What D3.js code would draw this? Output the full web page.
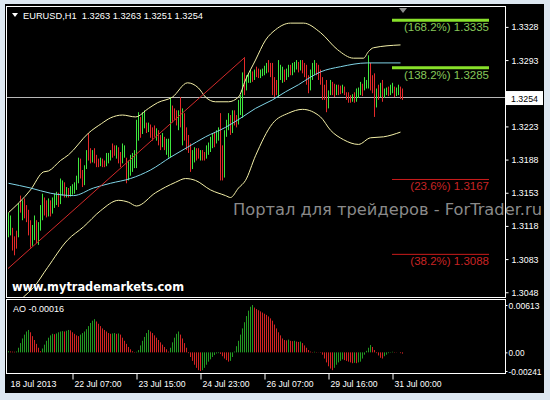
<!DOCTYPE html>
<html><head><meta charset="utf-8">
<script src="https://cdn.jsdelivr.net/npm/d3@7"></script>
<style>html,body{margin:0;padding:0;background:#dde7f1;overflow:hidden}</style>
</head><body><svg id="c" width="550" height="400"></svg>
<script>
// ---------- DATA ----------
const symbolTitle = "EURUSD,H1  1.3263 1.3263 1.3251 1.3254";
const open = [1.3110,1.3118,1.3114,1.3098,1.3110,1.3108,1.3140,1.3130,1.3144,1.3132,
1.3128,1.3114,1.3100,1.3112,1.3123,1.3104,1.3116,1.3134,1.3146,1.3133,
1.3130,1.3143,1.3132,1.3145,1.3148,1.3152,1.3142,1.3160,1.3163,1.3152,
1.3157,1.3150,1.3156,1.3158,1.3160,1.3166,1.3186,1.3172,1.3162,1.3180,
1.3208,1.3192,1.3187,1.3197,1.3188,1.3184,1.3182,1.3187,1.3183,1.3182,
1.3191,1.3192,1.3198,1.3200,1.3193,1.3200,1.3190,1.3185,1.3196,1.3188,
1.3168,1.3180,1.3188,1.3190,1.3190,1.3214,1.3232,1.3216,1.3228,1.3226,
1.3219,1.3224,1.3216,1.3221,1.3213,1.3218,1.3208,1.3202,1.3211,1.3198,
1.3200,1.3196,1.3244,1.3238,1.3234,1.3222,1.3250,1.3206,1.3236,1.3212,
1.3206,1.3200,1.3180,1.3190,1.3198,1.3193,1.3189,1.3196,1.3192,1.3190,
1.3198,1.3200,1.3206,1.3214,1.3206,1.3212,1.3226,1.3190,1.3172,1.3214,
1.3222,1.3232,1.3218,1.3238,1.3230,1.3226,1.3240,1.3236,1.3284,1.3262,
1.3270,1.3272,1.3279,1.3273,1.3284,1.3279,1.3276,1.3277,1.3280,1.3282,
1.3290,1.3286,1.3284,1.3264,1.3268,1.3258,1.3276,1.3272,1.3281,1.3273,
1.3278,1.3286,1.3279,1.3283,1.3285,1.3290,1.3283,1.3291,1.3284,1.3279,
1.3270,1.3262,1.3276,1.3280,1.3288,1.3282,1.3276,1.3270,1.3258,1.3262,
1.3244,1.3258,1.3268,1.3264,1.3258,1.3264,1.3262,1.3259,1.3264,1.3258,
1.3256,1.3254,1.3250,1.3256,1.3250,1.3258,1.3260,1.3266,1.3262,1.3265,
1.3268,1.3288,1.3268,1.3265,1.3244,1.3262,1.3255,1.3266,1.3254,1.3258,
1.3263,1.3257,1.3260,1.3264,1.3256,1.3259,1.3264,1.3263];
const high = [1.3132,1.3129,1.3116,1.3107,1.3113,1.3142,1.3150,1.3145,1.3147,1.3140,
1.3135,1.3124,1.3119,1.3129,1.3124,1.3122,1.3140,1.3152,1.3148,1.3145,
1.3147,1.3145,1.3148,1.3152,1.3154,1.3153,1.3168,1.3166,1.3164,1.3159,
1.3158,1.3160,1.3162,1.3164,1.3171,1.3190,1.3189,1.3177,1.3182,1.3198,
1.3216,1.3200,1.3198,1.3200,1.3193,1.3189,1.3190,1.3189,1.3187,1.3195,
1.3195,1.3198,1.3205,1.3203,1.3203,1.3201,1.3196,1.3205,1.3203,1.3190,
1.3187,1.3193,1.3195,1.3198,1.3230,1.3238,1.3233,1.3238,1.3240,1.3227,
1.3227,1.3225,1.3222,1.3224,1.3221,1.3219,1.3214,1.3216,1.3212,1.3210,
1.3210,1.3254,1.3245,1.3242,1.3240,1.3240,1.3254,1.3242,1.3237,1.3222,
1.3214,1.3205,1.3198,1.3201,1.3200,1.3200,1.3198,1.3198,1.3196,1.3203,
1.3206,1.3212,1.3216,1.3217,1.3219,1.3222,1.3237,1.3203,1.3219,1.3230,
1.3237,1.3235,1.3240,1.3240,1.3235,1.3251,1.3256,1.3280,1.3295,1.3277,
1.3279,1.3283,1.3281,1.3283,1.3286,1.3284,1.3283,1.3284,1.3287,1.3290,
1.3293,1.3290,1.3290,1.3275,1.3272,1.3293,1.3288,1.3286,1.3283,1.3284,
1.3288,1.3288,1.3290,1.3291,1.3293,1.3291,1.3293,1.3293,1.3290,1.3288,
1.3277,1.3283,1.3290,1.3293,1.3290,1.3288,1.3283,1.3275,1.3267,1.3272,
1.3261,1.3272,1.3270,1.3268,1.3267,1.3267,1.3266,1.3267,1.3265,1.3259,
1.3259,1.3256,1.3257,1.3259,1.3263,1.3264,1.3270,1.3268,1.3275,1.3272,
1.3298,1.3290,1.3277,1.3279,1.3263,1.3267,1.3269,1.3272,1.3263,1.3264,
1.3265,1.3267,1.3269,1.3265,1.3264,1.3267,1.3265,1.3263];
const low = [1.3106,1.3108,1.3092,1.3087,1.3094,1.3106,1.3132,1.3124,1.3126,1.3122,
1.3108,1.3095,1.3097,1.3103,1.3100,1.3098,1.3113,1.3124,1.3129,1.3127,
1.3128,1.3128,1.3131,1.3137,1.3140,1.3138,1.3141,1.3150,1.3148,1.3148,
1.3148,1.3149,1.3151,1.3152,1.3156,1.3163,1.3168,1.3159,1.3161,1.3178,
1.3187,1.3184,1.3185,1.3184,1.3180,1.3180,1.3181,1.3180,1.3180,1.3181,
1.3184,1.3187,1.3190,1.3192,1.3189,1.3184,1.3180,1.3184,1.3190,1.3163,
1.3166,1.3171,1.3175,1.3179,1.3179,1.3208,1.3211,1.3215,1.3221,1.3216,
1.3217,1.3211,1.3208,1.3212,1.3208,1.3203,1.3198,1.3201,1.3198,1.3193,
1.3190,1.3190,1.3227,1.3230,1.3224,1.3219,1.3222,1.3203,1.3208,1.3198,
1.3195,1.3175,1.3178,1.3185,1.3187,1.3189,1.3187,1.3187,1.3187,1.3189,
1.3193,1.3196,1.3200,1.3201,1.3205,1.3208,1.3166,1.3166,1.3169,1.3212,
1.3219,1.3214,1.3216,1.3224,1.3222,1.3225,1.3235,1.3232,1.3256,1.3261,
1.3269,1.3269,1.3270,1.3272,1.3275,1.3274,1.3274,1.3276,1.3277,1.3279,
1.3280,1.3275,1.3256,1.3254,1.3256,1.3254,1.3272,1.3269,1.3270,1.3272,
1.3275,1.3277,1.3277,1.3280,1.3283,1.3280,1.3282,1.3279,1.3275,1.3267,
1.3258,1.3261,1.3272,1.3277,1.3277,1.3272,1.3267,1.3251,1.3251,1.3238,
1.3242,1.3256,1.3256,1.3254,1.3256,1.3256,1.3257,1.3258,1.3256,1.3251,
1.3248,1.3248,1.3249,1.3248,1.3249,1.3253,1.3256,1.3255,1.3261,1.3263,
1.3263,1.3261,1.3258,1.3233,1.3243,1.3251,1.3254,1.3249,1.3253,1.3256,
1.3255,1.3256,1.3258,1.3254,1.3255,1.3256,1.3252,1.3251];
const close = [1.3128,1.3126,1.3096,1.3090,1.3097,1.3138,1.3134,1.3142,1.3130,1.3126,
1.3112,1.3098,1.3115,1.3125,1.3104,1.3116,1.3136,1.3148,1.3132,1.3129,
1.3144,1.3131,1.3146,1.3150,1.3152,1.3141,1.3165,1.3164,1.3152,1.3157,
1.3150,1.3158,1.3160,1.3162,1.3169,1.3187,1.3172,1.3162,1.3178,1.3195,
1.3190,1.3188,1.3196,1.3186,1.3183,1.3182,1.3188,1.3181,1.3182,1.3192,
1.3193,1.3196,1.3193,1.3194,1.3200,1.3187,1.3184,1.3202,1.3201,1.3166,
1.3182,1.3190,1.3193,1.3196,1.3226,1.3234,1.3214,1.3236,1.3236,1.3218,
1.3225,1.3214,1.3212,1.3214,1.3219,1.3206,1.3201,1.3212,1.3200,1.3206,
1.3208,1.3248,1.3230,1.3232,1.3228,1.3236,1.3226,1.3238,1.3212,1.3202,
1.3198,1.3178,1.3194,1.3198,1.3190,1.3191,1.3195,1.3189,1.3190,1.3200,
1.3203,1.3209,1.3213,1.3205,1.3216,1.3220,1.3172,1.3170,1.3214,1.3226,
1.3234,1.3218,1.3236,1.3226,1.3224,1.3246,1.3252,1.3276,1.3262,1.3274,
1.3277,1.3280,1.3272,1.3281,1.3277,1.3276,1.3281,1.3282,1.3285,1.3288,
1.3282,1.3278,1.3260,1.3258,1.3260,1.3288,1.3284,1.3282,1.3273,1.3281,
1.3285,1.3279,1.3287,1.3289,1.3291,1.3282,1.3290,1.3281,1.3277,1.3269,
1.3261,1.3279,1.3286,1.3290,1.3280,1.3274,1.3270,1.3254,1.3253,1.3242,
1.3258,1.3268,1.3260,1.3258,1.3264,1.3258,1.3259,1.3265,1.3258,1.3253,
1.3250,1.3250,1.3255,1.3249,1.3260,1.3262,1.3266,1.3259,1.3272,1.3270,
1.3292,1.3264,1.3262,1.3240,1.3258,1.3254,1.3265,1.3252,1.3261,1.3262,
1.3257,1.3264,1.3266,1.3256,1.3262,1.3264,1.3255,1.3254];
const ao = [0.00015,0.00012,0.00010,0.00008,0.00012,0.00060,0.00120,0.00180,0.00230,0.00270,
0.00290,0.00260,0.00210,0.00160,0.00110,0.00060,0.00015,0.00050,0.00100,0.00150,
0.00190,0.00220,0.00240,0.00235,0.00245,0.00260,0.00270,0.00275,0.00270,0.00280,
0.00290,0.00285,0.00260,0.00240,0.00220,0.00210,0.00230,0.00250,0.00270,0.00300,
0.00340,0.00380,0.00410,0.00430,0.00400,0.00370,0.00340,0.00310,0.00290,0.00270,
0.00250,0.00240,0.00245,0.00250,0.00240,0.00245,0.00230,0.00190,0.00150,0.00110,
0.00070,0.00040,0.00015,0.00005,0.00008,0.00030,0.00090,0.00150,0.00200,0.00250,
0.00290,0.00270,0.00250,0.00220,0.00190,0.00160,0.00130,0.00100,0.00070,0.00040,
0.00010,0.00060,0.00130,0.00190,0.00240,0.00270,0.00230,0.00180,0.00120,0.00060,
-0.00010,-0.00060,-0.00110,-0.00160,-0.00200,-0.00230,-0.00241,-0.00230,-0.00200,-0.00160,
-0.00120,-0.00090,-0.00060,-0.00035,-0.00015,-0.00010,-0.00020,-0.00050,-0.00080,-0.00100,
-0.00120,-0.00110,-0.00060,0.00010,0.00080,0.00150,0.00230,0.00310,0.00390,0.00470,
0.00540,0.00590,0.00613,0.00580,0.00560,0.00545,0.00530,0.00515,0.00500,0.00485,
0.00465,0.00440,0.00410,0.00360,0.00310,0.00260,0.00220,0.00180,0.00160,0.00155,
0.00165,0.00150,0.00145,0.00150,0.00140,0.00135,0.00140,0.00120,0.00090,0.00060,
0.00030,0.00010,0.00005,0.00008,0.00005,0.00002,-0.00005,-0.00030,-0.00080,-0.00130,
-0.00180,-0.00210,-0.00230,-0.00200,-0.00160,-0.00130,-0.00110,-0.00090,-0.00100,-0.00110,
-0.00120,-0.00130,-0.00140,-0.00135,-0.00140,-0.00130,-0.00120,-0.00080,-0.00030,0.00020,
0.00060,0.00095,0.00070,0.00030,-0.00010,-0.00040,-0.00070,-0.00080,-0.00050,-0.00030,
-0.00010,0.00005,0.00008,0.00005,0.00003,0.00000,-0.00010,-0.00016];

// Bollinger bands / moving average, read at sample bars
const upperIdx = [0,11,17.5,20,26,30,40,46.5,51,57,63.5,70,74.5,82,89.5,95,98.5,103.5,110,115,118.5,123.5,128.5,133.5,141,147.5,156,164.5,172.5,177.5,180,182.5,196];
const upperVal = [1.3132,1.3156,1.3175,1.3176,1.3187,1.3193,1.3216,1.3226,1.3232,1.3235,1.3233,1.3242,1.3248,1.3254,1.3269,1.32635,1.3254,1.3249,1.3249,1.3254,1.3272,1.3293,1.3314,1.3325,1.3332,1.3332,1.3322,1.3304,1.3295,1.3295,1.3302,1.3306,1.3309];
const midIdx = [0,11,21,32.5,42.5,51,61,71,81,89.5,98.5,108.5,117,123.5,132,138.5,145,151,156,166,179.5,196];
const midVal = [1.3163,1.3158,1.31525,1.3150,1.3158,1.3163,1.3168,1.3177,1.31905,1.3201,1.3212,1.3222,1.3233,1.3242,1.3251,1.32595,1.3267,1.3275,1.32805,1.3286,1.3290,1.3290];
const lowerIdx = [0,7.5,12.5,19.5,29.5,37.5,46,55,60,64,73.5,83.5,88.5,93.5,101,108.5,111,115,118.5,123.5,132,140,147,156,161,167.5,175,181,187.5,196];
const lowerVal = [1.3027,1.3043,1.3053,1.3074,1.3103,1.3117,1.3134,1.3145,1.3143,1.3139,1.3153,1.3164,1.3168,1.3166,1.3156,1.3150,1.3148,1.3158,1.3166,1.3192,1.3226,1.3237,1.3241,1.3233,1.3219,1.3209,1.3204,1.3211,1.3212,1.3217];

const trendIdx = [0, 118.5];
const trendVal = [1.3073, 1.3296];
const currentPrice = 1.3254;

const fibLabels = ["(168.2%) 1.3335","(138.2%) 1.3285","(23.6%) 1.3167","(38.2%) 1.3088"];
const fibLevels = [1.3335, 1.3285, 1.3167, 1.3088];
const fibKinds = ["ext","ext","ret","ret"];
const fibFromIdx = 192, fibToIdx = 240.5;

const priceTicks = [1.3328,1.3293,1.3258,1.3223,1.3188,1.3153,1.3118,1.3083,1.3048];
const aoTicks = [0.00613, 0.00, -0.00241];
const aoTickLabels = ["0.00613","0.00","-0.00241"];
const timeTickIdx = [0,32,64,96,128,160,192];
const timeTickLabels = ["18 Jul 2013","22 Jul 07:00","23 Jul 15:00","24 Jul 23:00","26 Jul 07:00","29 Jul 16:00","31 Jul 00:00"];
const aoTitle = "AO -0.00016";
const watermark1 = "Портал для трейдеров - ForTrader.ru";
const watermark2 = "www.mytrademarkets.com";

// ---------- DRAW ----------
const svg = d3.select('#c');
const FS = "'Liberation Sans',Arial,sans-serif";
svg.append('rect').attr('width',550).attr('height',400).attr('fill','#dde7f1');
svg.append('rect').attr('x',5).attr('y',4).attr('width',539).attr('height',389).attr('fill','#000');

const main = {x0:7, x1:505, y0:7, y1:297};
const sub = {y0:300, y1:373};
const x = d3.scaleLinear().domain([0, 248.5]).range([8, 505]);
const y = d3.scaleLinear().domain([1.3043, 1.3349]).range([297, 7]);
const ya = d3.scaleLinear().domain([-0.00241, 0.00613]).range([371, 305]);

const defs = svg.append('defs');
defs.append('clipPath').attr('id','cm').append('rect')
  .attr('x',main.x0).attr('y',main.y0).attr('width',main.x1-main.x0).attr('height',main.y1-main.y0);
defs.append('clipPath').attr('id','ca').append('rect')
  .attr('x',main.x0).attr('y',sub.y0).attr('width',main.x1-main.x0).attr('height',sub.y1-sub.y0);

// watermark (behind everything, spills over the price scale)
svg.append('text').attr('x',233).attr('y',215).text(watermark1)
  .attr('fill','#8a8a8a').attr('font-family',"'DejaVu Sans',Verdana,sans-serif")
  .attr('font-size',16.5).attr('textLength',309).attr('lengthAdjust','spacingAndGlyphs');

const gm = svg.append('g').attr('clip-path','url(#cm)');

// current price line
gm.append('line').attr('x1',main.x0).attr('x2',main.x1)
  .attr('y1',Math.round(y(currentPrice))+0.5).attr('y2',Math.round(y(currentPrice))+0.5)
  .attr('stroke','#b8b8b8').attr('stroke-width',1);

// candles
const idx = d3.range(close.length);
gm.append('g').selectAll('line').data(idx).join('line')
  .attr('x1',i=>x(i)+0.5).attr('x2',i=>x(i)+0.5)
  .attr('y1',i=>y(high[i])).attr('y2',i=>y(low[i]))
  .attr('stroke',i=>close[i]>=open[i]?'#3ee63e':'#e62a2a').attr('stroke-width',1);

// bands
const mk = (I,V)=>d3.line().x((d,k)=>x(I[k])+0.5).y((d,k)=>y(V[k])).curve(d3.curveMonotoneX)(V);
gm.append('path').attr('d',mk(upperIdx,upperVal)).attr('fill','none').attr('stroke','#f4f0a8').attr('stroke-width',1);
gm.append('path').attr('d',mk(lowerIdx,lowerVal)).attr('fill','none').attr('stroke','#f4f0a8').attr('stroke-width',1);
gm.append('path').attr('d',mk(midIdx,midVal)).attr('fill','none').attr('stroke','#7fd4e6').attr('stroke-width',1);

// trend line
gm.append('line').attr('x1',x(trendIdx[0])).attr('y1',y(trendVal[0]))
  .attr('x2',x(trendIdx[1])).attr('y2',y(trendVal[1]))
  .attr('stroke','#d22a2a').attr('stroke-width',1);

// fibonacci levels
fibLevels.forEach((lv,k)=>{
  const ext = fibKinds[k]==='ext';
  const yy = y(lv);
  gm.append('line').attr('x1',x(fibFromIdx)).attr('x2',x(fibToIdx))
    .attr('y1',yy).attr('y2',yy)
    .attr('stroke',ext?'#88e02a':'#cc1c1c').attr('stroke-width',ext?3:1);
  gm.append('text').attr('x',x(fibToIdx)).attr('y',yy+11).attr('text-anchor','end')
    .attr('fill',ext?'#86c85a':'#c82424').attr('font-family',FS).attr('font-size',11.5)
    .text(fibLabels[k]);
});

// www text
gm.append('text').attr('x',12).attr('y',291).text(watermark2)
  .attr('fill','#ffffff').attr('font-family',"'DejaVu Sans',Verdana,sans-serif").attr('font-weight','bold')
  .attr('font-size',12.5).attr('textLength',172).attr('lengthAdjust','spacingAndGlyphs');

// title
gm.append('path').attr('d','M12,13 L18,13 L15,17 Z').attr('fill','#fff');
gm.append('text').attr('x',23).attr('y',19).text(symbolTitle)
  .attr('fill','#fff').attr('font-family',FS).attr('font-size',9.8)
  .attr('textLength',180).attr('lengthAdjust','spacingAndGlyphs').style('white-space','pre');

// shift marker
svg.append('path').attr('d','M399,8 L407,8 L403,13 Z').attr('fill','#8a8a8a');

// AO
const ga = svg.append('g').attr('clip-path','url(#ca)');
ga.append('g').selectAll('line').data(idx.filter(i=>ao[i]!==0)).join('line')
  .attr('x1',i=>x(i)+0.5).attr('x2',i=>x(i)+0.5)
  .attr('y1',ya(0)).attr('y2',i=>ya(ao[i]))
  .attr('stroke',i=>(i===0||ao[i]>ao[i-1])?'#229a22':'#d42424').attr('stroke-width',1);
ga.append('text').attr('x',13).attr('y',312).text(aoTitle)
  .attr('fill','#fff').attr('font-family',FS).attr('font-size',9);

// frames
svg.append('rect').attr('x',main.x0-0.5).attr('y',main.y0-0.5).attr('width',main.x1-main.x0+1).attr('height',main.y1-main.y0+1)
  .attr('fill','none').attr('stroke','#fff');
svg.append('rect').attr('x',main.x0-0.5).attr('y',sub.y0-0.5).attr('width',main.x1-main.x0+1).attr('height',sub.y1-sub.y0+1)
  .attr('fill','none').attr('stroke','#fff');

// right price axis
const ay = svg.append('g').attr('transform',`translate(${main.x1+0.5},0)`)
  .call(d3.axisRight(y).tickValues(priceTicks).tickSize(3).tickPadding(3).tickFormat(d3.format('.4f')));
ay.select('.domain').remove();
ay.selectAll('line').attr('stroke','#fff');
ay.selectAll('text').attr('fill','#fff').attr('font-family',FS).attr('font-size',9.5)
  .attr('textLength',27).attr('lengthAdjust','spacingAndGlyphs');

// current price box
const cy = y(currentPrice);
svg.append('rect').attr('x',main.x1+1).attr('y',cy-6).attr('width',37).attr('height',14).attr('fill','#fff');
svg.append('text').attr('x',main.x1+6).attr('y',cy+4.5).text(currentPrice.toFixed(4))
  .attr('fill','#000').attr('font-family',FS).attr('font-size',9.5)
  .attr('textLength',27).attr('lengthAdjust','spacingAndGlyphs');

// AO axis
const aoW = [31, 16, 33];
const aa = svg.append('g').attr('transform',`translate(${main.x1+0.5},0)`)
  .call(d3.axisRight(ya).tickValues(aoTicks).tickSize(2).tickPadding(1).tickFormat((d,k)=>aoTickLabels[k]));
aa.select('.domain').remove();
aa.selectAll('line').attr('stroke','#fff');
aa.selectAll('text').attr('fill','#fff').attr('font-family',FS).attr('font-size',9.5)
  .attr('textLength',(d,k)=>aoW[k]).attr('lengthAdjust','spacingAndGlyphs');

// time axis
const tW = [46,47,47,47,47,47,47];
const ax = svg.append('g').attr('transform',`translate(0,${sub.y1+0.5})`)
  .call(d3.axisBottom(x).tickValues(timeTickIdx).tickSize(6).tickFormat((d,k)=>timeTickLabels[k]));
ax.select('.domain').remove();
ax.selectAll('line').attr('stroke','#fff').attr('transform','translate(0.5,0)');
ax.selectAll('.tick').filter((d,k)=>k===0).select('line').remove();
ax.selectAll('text').attr('fill','#fff').attr('font-family',FS).attr('font-size',9.5)
  .attr('text-anchor','start').attr('x',2).attr('dy',0).attr('y',13)
  .attr('textLength',(d,k)=>tW[k]).attr('lengthAdjust','spacingAndGlyphs');
</script></body></html>
